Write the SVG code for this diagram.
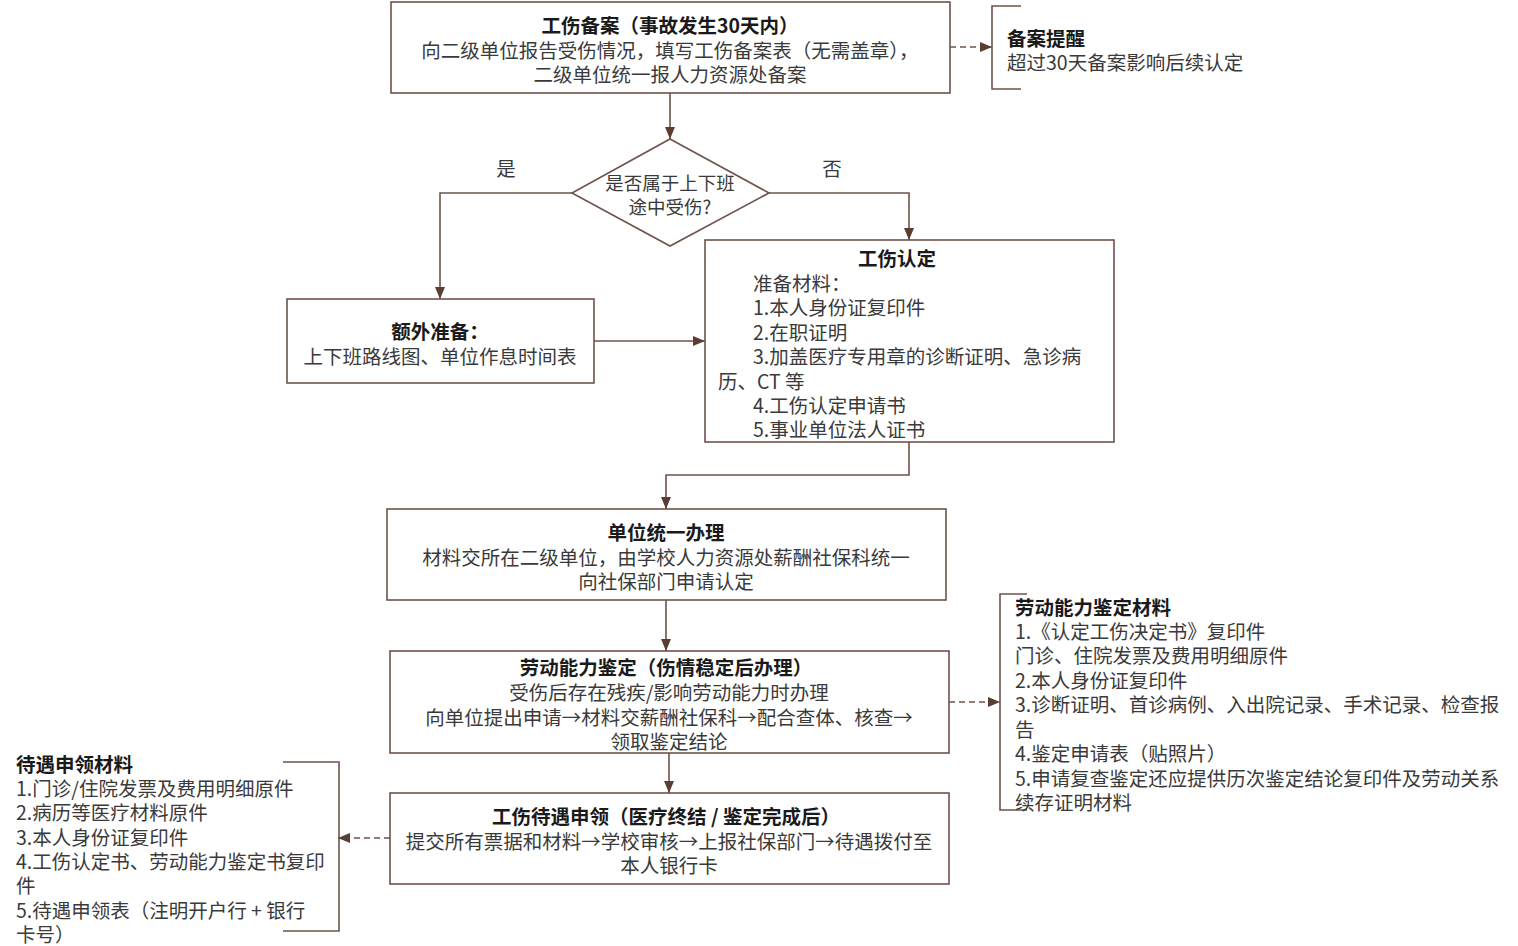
<svg xmlns="http://www.w3.org/2000/svg" width="1518" height="946" viewBox="0 0 1518 946">
<defs>
<marker id="ah" viewBox="0 0 12 10" refX="12" refY="5" markerWidth="12" markerHeight="10" markerUnits="userSpaceOnUse" orient="auto">
<path d="M0,0 L12,5 L0,10 Z" fill="#5a3d33"/>
</marker>
<style>
.box{fill:#fff;stroke:#6e534a;stroke-width:1.6}
.ln{fill:none;stroke:#6e534a;stroke-width:1.6}
.dash{fill:none;stroke:#6e534a;stroke-width:1.4;stroke-dasharray:6 4}
text{font-family:"Noto Sans CJK SC","Noto Sans",sans-serif;font-size:19.5px;fill:#3a3a3a;dominant-baseline:central}
.t{font-weight:bold;fill:#1a1a1a}
.c{text-anchor:middle}
</style>
</defs>
<rect width="1518" height="946" fill="#fff"/>

<g id="connectors">
<line class="ln" x1="670" y1="93" x2="670" y2="139" marker-end="url(#ah)"/>
<polyline class="ln" points="572,193 440,193 440,299" marker-end="url(#ah)"/>
<polyline class="ln" points="769,193 909,193 909,240" marker-end="url(#ah)"/>
<line class="ln" x1="594" y1="341" x2="705" y2="341" marker-end="url(#ah)"/>
<polyline class="ln" points="909,442 909,475 666,475 666,509" marker-end="url(#ah)"/>
<line class="ln" x1="666" y1="600" x2="666" y2="651" marker-end="url(#ah)"/>
<line class="ln" x1="669" y1="753" x2="669" y2="793" marker-end="url(#ah)"/>
<line class="dash" x1="950" y1="47" x2="992" y2="47" marker-end="url(#ah)"/>
<line class="dash" x1="949" y1="702" x2="1000" y2="702" marker-end="url(#ah)"/>
<line class="dash" x1="390" y1="838" x2="338" y2="838" marker-end="url(#ah)"/>
<text class="c" x="506" y="167">是</text>
<text class="c" x="832" y="167">否</text>
</g>

<g id="n1">
<rect class="box" x="391" y="2" width="559" height="91"/>
<text class="c t" x="670" y="24">工伤备案（事故发生30天内）</text>
<text class="c" x="670" y="49">向二级单位报告受伤情况，填写工伤备案表（无需盖章），</text>
<text class="c" x="670" y="73">二级单位统一报人力资源处备案</text>
</g>

<g id="note1">
<polyline class="ln" points="1021,6 992,6 992,89 1021,89"/>
<text class="t" x="1007" y="37">备案提醒</text>
<text x="1007" y="61">超过30天备案影响后续认定</text>
</g>

<g id="decision">
<polygon class="box" points="670,139 769,193 670,246 572,193"/>
<text class="c" x="670" y="182" style="font-size:18.5px">是否属于上下班</text>
<text class="c" x="670" y="206" style="font-size:18.5px">途中受伤?</text>
</g>

<g id="n2">
<rect class="box" x="287" y="299" width="307" height="84"/>
<text class="c t" x="440" y="330">额外准备：</text>
<text class="c" x="440" y="355">上下班路线图、单位作息时间表</text>
</g>

<g id="n3">
<rect class="box" x="705" y="240" width="409" height="202"/>
<text class="c t" x="897" y="257">工伤认定</text>
<text x="753" y="282">准备材料：</text>
<text x="753" y="306">1.本人身份证复印件</text>
<text x="753" y="331">2.在职证明</text>
<text x="753" y="355">3.加盖医疗专用章的诊断证明、急诊病</text>
<text x="718" y="380">历、CT 等</text>
<text x="753" y="404">4.工伤认定申请书</text>
<text x="753" y="428">5.事业单位法人证书</text>
</g>

<g id="n4">
<rect class="box" x="387" y="509" width="559" height="91"/>
<text class="c t" x="666" y="531">单位统一办理</text>
<text class="c" x="666" y="556">材料交所在二级单位，由学校人力资源处薪酬社保科统一</text>
<text class="c" x="666" y="580">向社保部门申请认定</text>
</g>

<g id="n5">
<rect class="box" x="390" y="651" width="559" height="102"/>
<text class="c t" x="666" y="666">劳动能力鉴定（伤情稳定后办理）</text>
<text class="c" x="669" y="691">受伤后存在残疾/影响劳动能力时办理</text>
<text class="c" x="669" y="716">向单位提出申请→材料交薪酬社保科→配合查体、核查→</text>
<text class="c" x="669" y="740">领取鉴定结论</text>
</g>

<g id="note2">
<polyline class="ln" points="1027,594 1000,594 1000,810 1027,810"/>
<text class="t" x="1015" y="606">劳动能力鉴定材料</text>
<text x="1015" y="630">1.《认定工伤决定书》复印件</text>
<text x="1015" y="654">门诊、住院发票及费用明细原件</text>
<text x="1015" y="679">2.本人身份证复印件</text>
<text x="1015" y="703">3.诊断证明、首诊病例、入出院记录、手术记录、检查报</text>
<text x="1015" y="728">告</text>
<text x="1015" y="752">4.鉴定申请表（贴照片）</text>
<text x="1015" y="777">5.申请复查鉴定还应提供历次鉴定结论复印件及劳动关系</text>
<text x="1015" y="801">续存证明材料</text>
</g>

<g id="n6">
<rect class="box" x="390" y="793" width="559" height="91"/>
<text class="c t" x="666" y="815">工伤待遇申领（医疗终结 / 鉴定完成后）</text>
<text class="c" x="669" y="840">提交所有票据和材料→学校审核→上报社保部门→待遇拨付至</text>
<text class="c" x="669" y="864">本人银行卡</text>
</g>

<g id="note3">
<polyline class="ln" points="283,762 339,762 339,931 283,931"/>
<text class="t" x="16" y="763">待遇申领材料</text>
<text x="16" y="787">1.门诊/住院发票及费用明细原件</text>
<text x="16" y="811">2.病历等医疗材料原件</text>
<text x="16" y="836">3.本人身份证复印件</text>
<text x="16" y="860">4.工伤认定书、劳动能力鉴定书复印</text>
<text x="16" y="884">件</text>
<text x="16" y="909">5.待遇申领表（注明开户行 + 银行</text>
<text x="16" y="933">卡号）</text>
</g>
</svg>
